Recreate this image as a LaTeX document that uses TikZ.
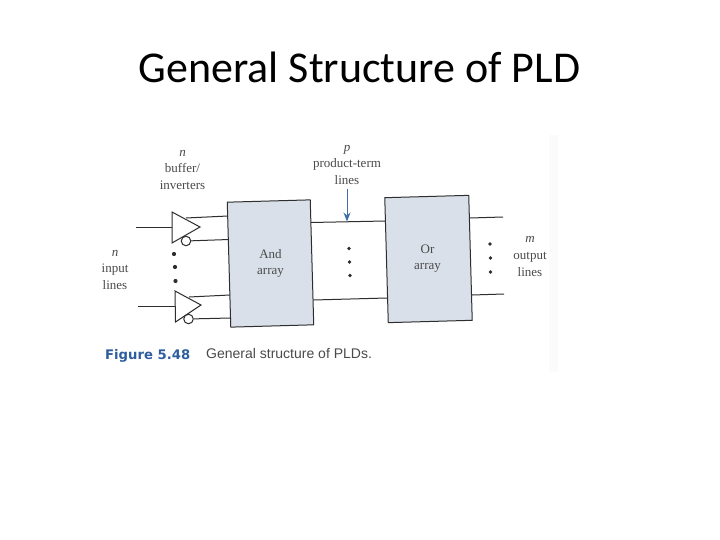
\documentclass[tikz,border=0pt]{standalone}
\usepackage{fontspec}
\setmainfont{Liberation Serif}
\newfontfamily\titlefont{Carlito}
\newfontfamily\capfont{Liberation Sans}
\newfontfamily\figfont{DejaVu Sans}
\usetikzlibrary{arrows.meta}
\definecolor{arrayfill}{HTML}{D9E0EA}
\definecolor{inkline}{HTML}{2E2E2E}
\definecolor{labelink}{HTML}{4A4A4A}
\definecolor{figblue}{HTML}{2F5E9E}
\definecolor{arrowblue}{HTML}{3F6FA8}
\tikzset{
  x=1pt,y=-1pt,
  wire/.style={draw=inkline,line width=1pt},
  arraybox/.style={draw=inkline,line width=1pt,fill=arrayfill,minimum width=83pt,minimum height=125pt,rotate=1.6,inner sep=0pt},
  bubble/.style={circle,draw=inkline,line width=1pt,fill=white,minimum size=9.5pt,inner sep=0pt},
  blackdot/.style={circle,fill=inkline,minimum size=4.2pt,inner sep=0pt},
  smalldot/.style={circle,fill=inkline,minimum size=3.6pt,inner sep=0pt},
  lbl/.style={text=labelink,align=center,inner sep=0pt,font=\fontsize{13}{16.5}\selectfont},
  boxlbl/.style={lbl,text=labelink},
  buffer/.style={draw=inkline,line width=1pt,fill=white,line join=miter},
}
\begin{document}
\begin{tikzpicture}
\useasboundingbox (0,0) rectangle (720,540);
\fill[white] (0,0) rectangle (720,540);
\fill[black!1.5] (549,135) rectangle (558,372);

\node[inner sep=0pt,font=\titlefont\fontsize{44}{52}\selectfont,text=black] (title) at (359.5,67) {General Structure of PLD};

% arrays
\node[arraybox] (andarr) at (270.5,263.5) {};
\node[arraybox,minimum width=84pt] (orarr) at (428.5,259) {};
\node[boxlbl] (andlbl) at (270.5,263.5) {And\\array};
\node[boxlbl] (orlbl) at (427.5,258.5) {Or\\array};

% input ends, output ends
\coordinate (in1) at (136,228);
\coordinate (in2) at (138,306);
\coordinate (b1a) at (172,228);
\coordinate (b2a) at (175,306);
\coordinate (t1) at (186,218);
\coordinate (t2) at (189,297);
\coordinate (c1end) at (229,239.5);
\coordinate (c2end) at (231,318);
\coordinate (a1end) at (228,216);
\coordinate (a2end) at (230,295);
\coordinate (o1end) at (503,217);
\coordinate (o2end) at (504,294);
\coordinate (p1) at (311,222.5);
\coordinate (p1e) at (385.5,221);
\coordinate (p2) at (313.5,300);
\coordinate (p2e) at (387,298);
\coordinate (o1s) at (470,218);
\coordinate (o2s) at (472,295);
\coordinate (arrtop) at (347,189);
\coordinate (arrtip) at (347,221.5);

% wires behind buffers
\draw[wire] (in1) -- (b1a);
\draw[wire] (in2) -- (b2a);
\draw[wire] (t1) -- (a1end);
\draw[wire] (t2) -- (a2end);

% buffers
\draw[buffer] (172,212) -- (200,227) -- (172,243) -- cycle;
\draw[buffer] (175,291) -- (201,305) -- (175.5,322) -- cycle;
\node[bubble] (bub1) at (186,241) {};
\node[bubble] (bub2) at (188.5,319) {};
\draw[wire] (bub1) -- (c1end);
\draw[wire] (bub2) -- (c2end);

% product term and output lines
\draw[wire] (p1) -- (p1e);
\draw[wire] (p2) -- (p2e);
\draw[wire] (o1s) -- (o1end);
\draw[wire] (o2s) -- (o2end);
\draw[draw=arrowblue,line width=0.9pt,-{Stealth[length=9pt,width=7pt,fill=arrowblue]}] (arrtop) -- (arrtip);

% dots
\node[blackdot] (d1) at (174,254) {};
\node[blackdot] (d2) at (175,267) {};
\node[blackdot] (d3) at (175.5,281) {};
\node[smalldot] (d4) at (349,248.5) {};
\node[smalldot] (d5) at (349.5,262) {};
\node[smalldot] (d6) at (350,275.5) {};
\node[smalldot] (d7) at (490,244) {};
\node[smalldot] (d8) at (490.5,258) {};
\node[smalldot] (d9) at (490.5,272) {};

% labels
\node[lbl] (lblbuf) at (182.5,170) {\textit{n}\\buffer/\\inverters};
\node[lbl] (lblin) at (115,270) {\textit{n}\\input\\lines};
\node[lbl] (lblp) at (347,165) {\textit{p}\\product-term\\lines};
\node[lbl] (lblm) at (530,256.5) {\textit{m}\\output\\lines};

% caption
\node[inner sep=0pt,anchor=west,text=figblue,font=\figfont\bfseries\fontsize{13.2}{16}\selectfont] (figno) at (105,356) {Figure 5.48};
\node[inner sep=0pt,anchor=west,text=labelink,font=\capfont\fontsize{14}{16}\selectfont] (figcap) at (206,353) {General structure of PLDs.};
\end{tikzpicture}
\end{document}
